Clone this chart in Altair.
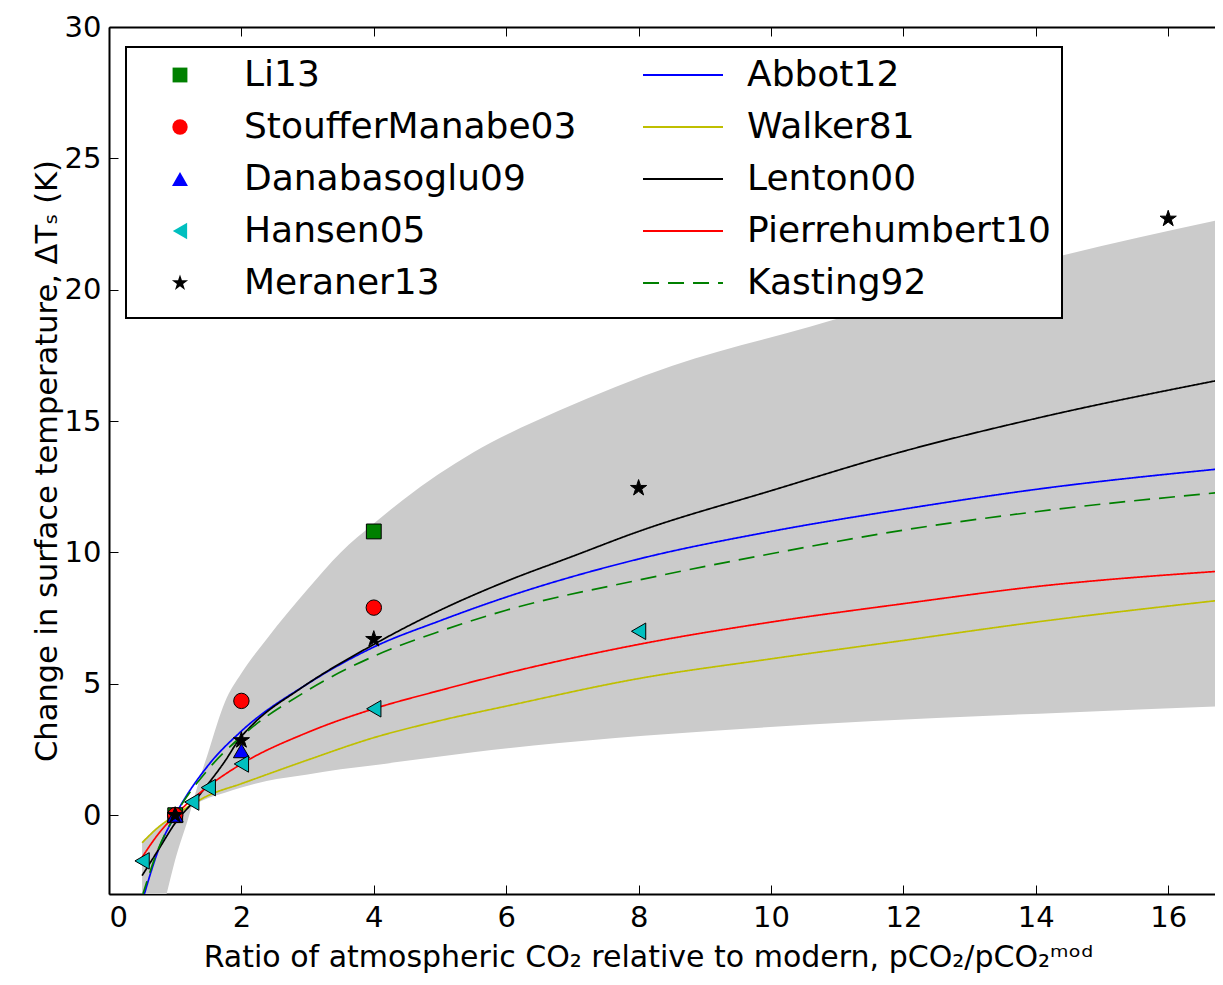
import altair as alt
import pandas as pd

# ---------------- data ----------------
band_x = [0.5, 0.6, 0.7, 0.8, 0.87, 1.0, 1.2, 1.36, 1.5, 1.75, 2.0, 2.38, 3.0, 3.5, 4.0,
          4.44, 5.5, 6.8, 8.5, 10.6, 12.5, 14.4, 16.85]
band_upper = [-8.0, -6.2, -4.8, -3.7, -3.0, -1.7, -0.1, 1.3, 2.4, 4.3, 5.4, 6.7, 8.6, 10.0, 11.1,
              12.0, 13.8, 15.4, 17.1, 18.6, 20.0, 21.3, 22.7]
band_lower = [-1.0, -0.75, -0.52, -0.33, -0.2, 0.0, 0.3, 0.5, 0.65, 0.85, 1.05, 1.3, 1.55, 1.75, 1.9,
              2.05, 2.4, 2.75, 3.1, 3.45, 3.7, 3.9, 4.15]

line_x = [0.5, 0.75, 1, 1.5, 2, 3, 4, 5, 6, 8, 10, 12, 14, 16.85]
abbot12 = [-3.3, -1.3, 0, 1.9, 3.2, 5.0, 6.4, 7.4, 8.3, 9.75, 10.8, 11.65, 12.4, 13.2]
walker81 = [-1.05, -0.45, 0, 0.75, 1.2, 2.1, 2.95, 3.6, 4.15, 5.2, 5.95, 6.65, 7.35, 8.2]
pierrehumbert10 = [-1.6, -0.7, 0, 1.1, 1.95, 3.15, 4.05, 4.75, 5.4, 6.5, 7.35, 8.05, 8.7, 9.3]
kasting92 = [-3.1, -1.25, 0, 1.75, 3.0, 4.75, 6.05, 7.0, 7.8, 8.95, 9.95, 10.85, 11.55, 12.3]
lenton_x = [0.5, 0.75, 1, 1.36, 1.5, 1.75, 1.97, 2.17, 2.88, 4, 5, 6, 7, 8, 10, 12, 14, 16.85]
lenton00 = [-2.3, -1.3, -0.3, 0.75, 1.2, 2.05, 2.9, 3.45, 4.8, 6.5, 7.8, 8.9, 9.85, 10.8, 12.35,
            13.85, 15.1, 16.6]

li13_x, li13_y = [1, 4], [0, 10.8]
stouffer_x, stouffer_y = [1, 2, 4], [0, 4.35, 7.9]
danabasoglu_x, danabasoglu_y = [1, 2], [0, 2.45]
hansen_x, hansen_y = [0.5, 1.25, 1.5, 2, 4, 8], [-1.74, 0.5, 1.05, 1.95, 4.05, 7.0]
meraner_x, meraner_y = [1, 2, 4, 8, 16], [0, 2.85, 6.7, 12.45, 22.7]

marker_names = ["Li13", "StoufferManabe03", "Danabasoglu09", "Hansen05", "Meraner13"]
marker_colors = ["#008000", "#ff0000", "#0000ff", "#00bfbf", "#000000"]
star = ("M0,-1 L0.2245,-0.309 L0.951,-0.309 L0.363,0.118 L0.588,0.809 L0,0.382 "
        "L-0.588,0.809 L-0.363,0.118 L-0.951,-0.309 L-0.2245,-0.309 Z")
marker_shapes = ["square", "circle", "triangle-up", "triangle-left", star]
marker_sizes = [220, 290, 300, 300, 260]

line_names = ["Abbot12", "Walker81", "Lenton00", "Pierrehumbert10", "Kasting92"]
line_colors = ["#0000ff", "#bfbf00", "#000000", "#ff0000", "#008000"]
line_dashes = [[1, 0], [1, 0], [1, 0], [1, 0], [16, 9]]

# ---------------- tables ----------------
band_df = pd.DataFrame({"x": band_x, "upper": band_upper, "lower": band_lower})

rows = []
for name, xs_, ys_ in [("Abbot12", line_x, abbot12), ("Walker81", line_x, walker81),
                       ("Lenton00", lenton_x, lenton00),
                       ("Pierrehumbert10", line_x, pierrehumbert10),
                       ("Kasting92", line_x, kasting92)]:
    for i, (xv, yv) in enumerate(zip(xs_, ys_)):
        rows.append({"series": name, "x": xv, "y": yv, "i": i})
lines_df = pd.DataFrame(rows)

prow = []
for name, xs_, ys_ in [("Li13", li13_x, li13_y), ("StoufferManabe03", stouffer_x, stouffer_y),
                       ("Danabasoglu09", danabasoglu_x, danabasoglu_y),
                       ("Hansen05", hansen_x, hansen_y), ("Meraner13", meraner_x, meraner_y)]:
    for xv, yv in zip(xs_, ys_):
        prow.append({"model": name, "x": xv, "y": yv})
pts_df = pd.DataFrame(prow)

W, H = 1106, 867
XMAX = W / 66.2
xs = alt.Scale(domain=[0, XMAX], nice=False, zero=False)
ys = alt.Scale(domain=[-3, 30], nice=False, zero=False)
FONT = "DejaVu Sans"
XT = list(range(0, 17, 2))
YT = list(range(0, 31, 5))

x_main = alt.Axis(orient="bottom", values=XT, ticks=False, domain=True,
                  domainColor="black", domainWidth=2, labelFontSize=29, labelPadding=9,
                  labelFont=FONT, labelColor="black", grid=False,
                  title="Ratio of atmospheric CO₂ relative to modern, pCO₂/pCO₂ᵐᵒᵈ",
                  titleFontSize=30, titleFontWeight="normal", titleFont=FONT,
                  titleColor="black", titlePadding=10, titleX=539)
y_main = alt.Axis(orient="left", values=YT, ticks=False, domain=True,
                  domainColor="black", domainWidth=2, labelFontSize=29, labelPadding=8,
                  labelFont=FONT, labelColor="black", grid=False,
                  title="Change in surface temperature, ΔTₛ (K)", titleFontSize=30.5,
                  titleFontWeight="normal", titleFont=FONT, titleColor="black",
                  titlePadding=2)
x_ticks = alt.Axis(orient="bottom", values=XT, ticks=True, tickSize=9,
                   tickColor="black", tickWidth=1, offset=-9, domain=False, labels=False,
                   grid=False, title=None)
y_ticks = alt.Axis(orient="left", values=YT, ticks=True, tickSize=9,
                   tickColor="black", tickWidth=1, offset=-9, domain=False, labels=False,
                   grid=False, title=None)
x_top_ticks = alt.Axis(orient="top", values=XT, ticks=True, tickSize=9,
                       tickColor="black", tickWidth=1, offset=-9, domain=False, labels=False,
                       grid=False, title=None)
x_top_dom = alt.Axis(orient="top", ticks=False, labels=False, domain=True, domainColor="black",
                     domainWidth=2, grid=False, title=None)

band = alt.Chart(band_df).mark_area(color="#cbcbcb", clip=True, opacity=1,
                                    interpolate="monotone").encode(
    x=alt.X("x:Q", scale=xs, axis=x_main),
    y=alt.Y("upper:Q", scale=ys, axis=y_main),
    y2="lower:Q",
)

leg_lines = alt.Legend(orient="none", legendX=556, legendY=30, title=None,
                       labelFontSize=36, labelFont=FONT, labelColor="black", labelLimit=600,
                       symbolType="M-2.9,0L2.9,0", symbolSize=760, symbolStrokeWidth=2,
                       rowPadding=16, labelOffset=46, padding=0)
lines = alt.Chart(lines_df).mark_line(strokeWidth=1.7, clip=True,
                                      interpolate="monotone").encode(
    x=alt.X("x:Q", scale=xs, axis=x_ticks),
    y=alt.Y("y:Q", scale=ys, axis=y_ticks),
    color=alt.Color("series:N", scale=alt.Scale(domain=line_names, range=line_colors),
                    legend=leg_lines),
    strokeDash=alt.StrokeDash("series:N", scale=alt.Scale(domain=line_names, range=line_dashes),
                              legend=leg_lines),
    order="i:Q",
)

leg_pts = alt.Legend(orient="none", legendX=53, legendY=30, title=None,
                     labelFontSize=36, labelFont=FONT, labelColor="black", labelLimit=600,
                     symbolSize=170, symbolStrokeColor="black", symbolStrokeWidth=1,
                     symbolOpacity=1, rowPadding=16, labelOffset=46, padding=0)
points = alt.Chart(pts_df).mark_point(filled=True, stroke="black", strokeWidth=1,
                                      opacity=1).encode(
    x=alt.X("x:Q", scale=xs, axis=x_top_ticks),
    y=alt.Y("y:Q", scale=ys, axis=None),
    color=alt.Color("model:N", scale=alt.Scale(domain=marker_names, range=marker_colors),
                    legend=leg_pts),
    shape=alt.Shape("model:N", scale=alt.Scale(domain=marker_names, range=marker_shapes),
                    legend=leg_pts),
    size=alt.Size("model:N", scale=alt.Scale(domain=marker_names, range=marker_sizes),
                  legend=None),
)

frame = alt.Chart(pd.DataFrame({"k": [0]})).mark_rect(
    fill="white", stroke="black", strokeWidth=2).encode(
    x=alt.value(17), x2=alt.value(953), y=alt.value(20), y2=alt.value(291))

topdom = alt.Chart(pts_df).mark_point(opacity=0).encode(
    x=alt.X("x:Q", scale=xs, axis=x_top_dom),
    y=alt.Y("y:Q", scale=ys, axis=None),
)

chart = alt.layer(band, lines, points, frame, topdom).resolve_scale(
    color="independent", shape="independent", strokeDash="independent", size="independent"
).resolve_axis(x="independent", y="independent").properties(
    width=W, height=H,
    autosize=alt.AutoSizeParams(type="none"),
    padding={"left": 101, "top": 19, "right": 0, "bottom": 88},
).configure_view(stroke=None).configure(background="white")

chart.save("out.html", embed_options={"renderer": "svg", "actions": False})
